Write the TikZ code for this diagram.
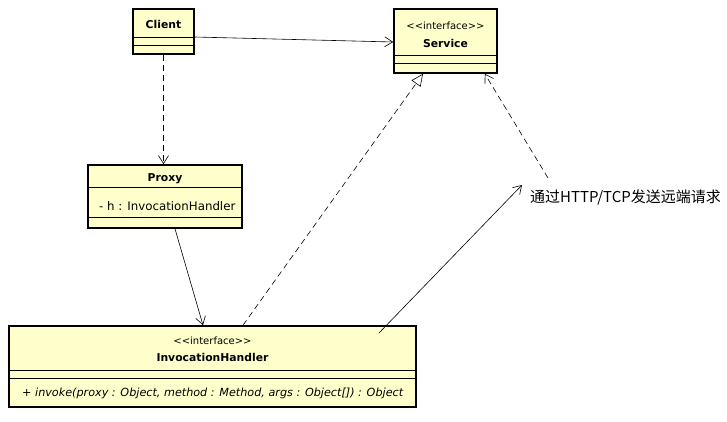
\documentclass[tikz,border=0pt]{standalone}
\usepackage{fontspec}
\setmainfont{DejaVu Sans}
\newfontfamily\cjk{Noto Sans CJK SC}
\usetikzlibrary{arrows.meta}
\definecolor{classfill}{RGB}{255,255,204}
\begin{document}
\begin{tikzpicture}[x=1pt,y=-1pt,
    cls/.style={draw,line width=1.6pt,fill=classfill,inner sep=0pt},
    sep/.style={line width=0.8pt},
    lbl/.style={font=\fontsize{11.2}{13}\selectfont,inner sep=0pt},
    stereo/.style={font=\fontsize{10}{12}\selectfont,inner sep=0pt},
    ttl/.style={font=\fontsize{10.8}{13}\selectfont\bfseries,inner sep=0pt},
    assoc/.style={line width=0.6pt,-{Straight Barb[length=8pt,width=10pt]}},
    depend/.style={assoc,dash pattern=on 6pt off 4pt},
    realize/.style={line width=0.6pt,dash pattern=on 6pt off 4pt,
        -{Triangle[open,length=12pt,width=11pt,fill=white]}}]
    \useasboundingbox (0,0) rectangle (727,422);
    \node[cls,minimum width=61pt,minimum height=45pt] (client) at (163.5,31.5) {};
    \draw[sep] (133,37) -- (194,37);
    \draw[sep] (133,45) -- (194,45);
    \node[ttl] (clientname) at (163.5,24) {Client};
    \node[cls,minimum width=103pt,minimum height=64pt] (service) at (445.5,41) {};
    \draw[sep] (394,55) -- (497,55);
    \draw[sep] (394,63) -- (497,63);
    \node[stereo] (servicestereo) at (445.5,26) {<{}<interface>{}>};
    \node[ttl] (servicename) at (445.5,43) {Service};
    \node[cls,minimum width=154pt,minimum height=63pt] (proxy) at (165,196.5) {};
    \draw[sep] (88,187) -- (242,187);
    \draw[sep] (88,217) -- (242,217);
    \node[ttl] (proxyname) at (165,179) {Proxy};
    \node[lbl,font=\fontsize{11.8}{13}\selectfont,anchor=west] (proxyattr) at (99,206) {- h : InvocationHandler};
    \node[cls,minimum width=407pt,minimum height=81pt] (ih) at (212.5,366.5) {};
    \draw[sep] (9,370) -- (416,370);
    \draw[sep] (9,378) -- (416,378);
    \node[stereo] (ihstereo) at (212.5,341) {<{}<interface>{}>};
    \node[ttl] (ihname) at (212.5,357) {InvocationHandler};
    \node[lbl,anchor=west] (ihop) at (22,393) {+ \itshape invoke(proxy : Object, method : Method, args : Object[]) : Object};
    \node[font=\cjk\fontsize{15}{17}\selectfont,anchor=west,inner sep=0pt] (remote) at (530,198) {通过HTTP/TCP发送远端请求};
    \draw[assoc] ([yshift=-5.5pt]client.east) -- ([yshift=-1pt]service.west);
    \draw[depend] (client.south) -- (client.south |- proxy.north);
    \draw[assoc] ([xshift=10pt]proxy.south) -- ([xshift=-9.5pt]ih.north);
    \draw[realize] ([xshift=30.5pt]ih.north) -- ([xshift=-22.5pt]service.south);
    \draw[assoc] ([xshift=-38pt,yshift=-8pt]ih.north east) -- ([xshift=-8pt,yshift=13pt]remote.west);
    \draw[depend] ([xshift=18pt,yshift=20pt]remote.west) -- ([xshift=-13pt]service.south east);
\end{tikzpicture}
\end{document}
